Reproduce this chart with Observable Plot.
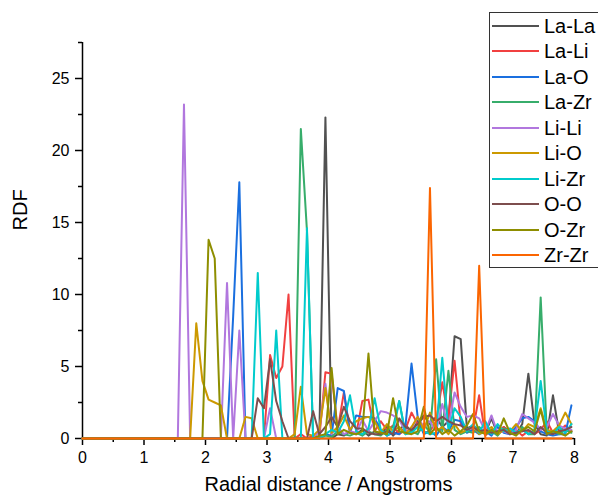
<!DOCTYPE html>
<html>
<head>
<meta charset="utf-8">
<script src="https://cdn.jsdelivr.net/npm/d3@7"></script>
<script src="https://cdn.jsdelivr.net/npm/@observablehq/plot@0.6"></script>
<style>
  html, body { margin: 0; padding: 0; background: white; overflow: hidden; }
  #wrap { position: relative; width: 598px; height: 500px; font-family: "Liberation Sans", Arial, sans-serif; }
  #legend { position: absolute; left: 489px; top: 12px; width: 130px; height: 254px; border: 1px solid #333; background: white; }
  .row { position: absolute; left: 0; height: 26px; width: 130px; }
  .swatch { position: absolute; left: 2px; width: 47px; height: 2px; top: 12px; }
  .lab { position: absolute; left: 54px; top: 0; font-size: 20px; line-height: 26px; color: black; white-space: nowrap; }
</style>
</head>
<body>
<div id="wrap"></div>
<script>
// Radial distance grid (Angstroms)
const xs = [0, 1.45, 1.55, 1.65, 1.75, 1.85, 1.95, 2.05, 2.15, 2.25, 2.35,
  2.45, 2.55, 2.65, 2.75, 2.85, 2.95, 3.05, 3.15, 3.25, 3.35,
  3.45, 3.55, 3.65, 3.75, 3.85, 3.95, 4.05, 4.15, 4.25, 4.35,
  4.45, 4.55, 4.65, 4.75, 4.85, 4.95, 5.05, 5.15, 5.25, 5.35,
  5.45, 5.55, 5.65, 5.75, 5.85, 5.95, 6.05, 6.15, 6.25, 6.35,
  6.45, 6.55, 6.65, 6.75, 6.85, 6.95, 7.05, 7.15, 7.25, 7.35,
  7.45, 7.55, 7.65, 7.75, 7.85, 7.95];

const laLa = [0,
  0, 0, 0, 0, 0, 0, 0, 0, 0, 0,
  0, 0, 0, 0, 0, 0, 0, 0, 0, 0,
  0, 0, 0, 0, 0, 22.3, 0, 0.3, 0.2, 0.5,
  0.3, 0.6, 0.2, 0.5, 0.3, 0.8, 0.2, 0.6, 1.0, 0.4,
  1.2, 1.6, 1.0, 1.5, 0.8, 1.2, 7.1, 6.9, 0.7, 0.9,
  0.6, 0.4, 1.4, 0.3, 0.8, 0.5, 0.3, 1.0, 4.5, 1.0,
  0.3, 0.2, 3.0, 0.4, 0.6, 0.5];
const laLi = [0,
  0, 0, 0, 0, 0, 0, 0, 0, 0, 0,
  0, 0, 0, 0, 0, 0, 5.8, 4.2, 5.0, 10.0,
  0, 0.3, 0, 0.2, 0, 4.6, 4.5, 0.6, 3.2, 0.4,
  0.3, 2.6, 2.7, 0.5, 1.2, 0.6, 0.9, 0.3, 0.6, 1.8,
  1.0, 0.4, 0.5, 1.2, 3.9, 1.4, 5.4, 1.0, 0.5, 0.6,
  3.0, 0.2, 0.6, 0.3, 0.8, 0.4, 0.6, 0.2, 0.5, 0.3,
  0.6, 1.2, 0.4, 0.5, 0.9, 0.5];
const laO = [0,
  0, 0, 0, 0, 0, 0, 0, 0, 0, 0,
  8.5, 17.8, 0, 0, 0, 0, 0, 0, 0, 0,
  0, 0, 0, 0, 0, 0.3, 0.2, 3.5, 3.3, 0.4,
  1.6, 1.5, 1.5, 1.4, 0.6, 0.2, 0.4, 0.3, 0.8, 5.2,
  1.5, 0.3, 0.5, 0.2, 0.8, 0.5, 1.3, 1.2, 0.4, 0.6,
  0.3, 0.5, 0.2, 0.8, 0.4, 0.3, 0.8, 1.4, 1.5, 1.2,
  0.5, 0.3, 0.2, 0.3, 0.3, 2.3];
const laZr = [0,
  0, 0, 0, 0, 0, 0, 0, 0, 0, 0,
  0, 0, 0, 0, 0, 0, 0, 0, 0, 0,
  0, 21.5, 14.4, 0, 0, 0.2, 0.1, 0.5, 0.3, 0.2,
  0.4, 0.2, 0.5, 0.3, 0.2, 0.6, 0.8, 2.6, 0.4, 0.5,
  0.3, 1.0, 0.4, 5.5, 0.5, 4.7, 0.6, 0.3, 0.5, 0.4,
  0.8, 0.3, 0.5, 0.2, 0.7, 0.4, 0.3, 0.8, 0.3, 0.3,
  9.8, 0.4, 0.5, 0.3, 0.6, 0.4];
const liLi = [0,
  0, 0, 23.2, 0, 0, 0, 0, 0, 0, 10.8,
  0, 7.5, 0, 0, 0, 0, 2.1, 0, 0, 0,
  0, 0, 0, 0, 0.5, 3.8, 0.3, 0.8, 0.3, 0.5,
  0.4, 1.3, 0.5, 1.2, 1.9, 1.8, 1.6, 1.3, 0.5, 0.7,
  1.5, 0.8, 1.2, 0.5, 2.4, 0.8, 3.2, 2.2, 1.5, 1.6,
  1.4, 0.5, 1.6, 0.4, 0.5, 0.3, 0.6, 1.7, 1.4, 1.1,
  0.6, 0.8, 1.7, 0.9, 0.7, 0.6];
const liO = [0,
  0, 0, 0, 0, 8.0, 4.0, 2.7, 2.5, 2.3, 0,
  0, 0, 1.5, 1.4, 0, 0, 0, 0, 0, 0,
  0.3, 3.6, 0.3, 0.2, 0.6, 3.5, 0.4, 0.8, 1.6, 0.6,
  1.2, 1.4, 1.5, 1.2, 0.4, 1.0, 0.5, 0.8, 0.3, 0.8,
  1.5, 0.6, 1.8, 0.5, 0.8, 0.3, 1.0, 0.4, 0.6, 0.9,
  0.3, 0.5, 0.8, 0.3, 0.6, 0.5, 1.0, 0.5, 1.0, 0.8,
  2.1, 0.6, 0.5, 0.9, 1.8, 1.0];
const liZr = [0,
  0, 0, 0, 0, 0, 0, 0, 0, 0, 0,
  0, 0, 0, 0, 11.5, 0, 0.3, 7.5, 0, 0,
  0, 0, 14.6, 0, 0, 0.3, 0.6, 0.4, 1.2, 3.0,
  0.5, 0.3, 0.7, 2.8, 0.6, 0.2, 0.5, 2.6, 0.3, 0.4,
  0.8, 0.5, 0.3, 0.4, 5.6, 0.6, 2.1, 1.5, 0.5, 1.0,
  0.4, 1.2, 0.3, 1.0, 0.5, 0.7, 0.4, 0.6, 0.3, 0.6,
  4.0, 0.5, 0.3, 0.8, 0.4, 1.0];
const oO = [0,
  0, 0, 0, 0, 0, 0, 0, 0, 0, 0,
  0, 0, 0, 0, 2.8, 2.1, 5.5, 2.6, 1.2, 0,
  0, 0, 0, 1.9, 0.3, 0.8, 1.5, 0.8, 2.2, 1.2,
  0.7, 0.7, 0.4, 0.3, 0.3, 0.5, 0.3, 1.4, 0.8, 0.6,
  1.0, 1.5, 1.6, 1.2, 1.5, 1.2, 1.0, 0.9, 0.6, 0.8,
  0.5, 0.6, 0.4, 0.5, 0.6, 0.3, 0.4, 0.5, 0.6, 0.3,
  0.8, 0.4, 0.3, 0.5, 0.6, 0.8];
const oZr = [0,
  0, 0, 0, 0, 0, 0, 13.8, 12.5, 0, 0,
  0, 0, 0, 0, 0, 0, 0, 0, 0, 0,
  0, 0, 0, 0, 0.2, 0.3, 4.9, 0.3, 0.6, 0.4,
  0.3, 0.5, 5.9, 0.5, 0.4, 0.3, 2.8, 0.5, 0.4, 0.3,
  0.5, 2.2, 0.3, 0.8, 0.3, 0.6, 0.2, 0.5, 0.9, 1.7,
  0.5, 0.3, 0.6, 0.3, 1.4, 0.4, 0.2, 0.6, 0.8, 0.5,
  2.0, 0.3, 0.5, 0.4, 0.2, 0.5];
const zrZr = [0,
  0, 0, 0, 0, 0, 0, 0, 0, 0, 0,
  0, 0, 0, 0, 0, 0, 0, 0, 0, 0,
  0, 0, 0, 0, 0, 0, 0, 0, 0, 0,
  0, 0, 0, 0, 0, 0, 0, 0, 0, 0,
  0, 0, 17.4, 0, 0, 0, 0, 0, 0, 0,
  12.0, 0, 0, 0, 0, 0, 0, 0, 0, 0,
  0, 0, 0, 0, 0, 0];

const seriesNames = ["La-La", "La-Li", "La-O", "La-Zr", "Li-Li", "Li-O", "Li-Zr", "O-O", "O-Zr", "Zr-Zr"];
const seriesValues = [laLa, laLi, laO, laZr, liLi, liO, liZr, oO, oZr, zrZr];
const seriesColors = ["#515151", "#F14040", "#1A6FDF", "#37AD6B", "#B177DE", "#CC9900", "#00CBCC", "#7D4E4E", "#8E8E00", "#FB6501"];

const xMajor = [0, 1, 2, 3, 4, 5, 6, 7, 8];
const xMinor = [0.5, 1.5, 2.5, 3.5, 4.5, 5.5, 6.5, 7.5];
const yMajor = [0, 5, 10, 15, 20, 25];
const yMinor = [2.5, 7.5, 12.5, 17.5, 22.5, 27.5];

const rows = seriesNames.flatMap((name, i) =>
  seriesValues[i].map((v, j) => ({series: name, x: xs[j], y: v})));

const font = "Liberation Sans, Arial, sans-serif";

const chart = Plot.plot({
  width: 598,
  height: 500,
  marginLeft: 82,
  marginRight: 24,
  marginTop: 42,
  marginBottom: 62,
  style: {fontFamily: font, color: "black", background: "white", overflow: "visible"},
  x: {domain: [0, 8]},
  y: {domain: [0, 27.5]},
  color: {domain: seriesNames, range: seriesColors},
  marks: [
    Plot.ruleX([0], {stroke: "black", strokeWidth: 1.5}),
    Plot.ruleY([0], {stroke: "black", strokeWidth: 1.5}),
    Plot.axisX({ticks: xMajor, tickSize: 7, tickPadding: 6, fontSize: 16, label: null, tickFormat: d => String(d), strokeWidth: 1.5}),
    Plot.axisX({ticks: xMinor, tickSize: 4, text: null, label: null, strokeWidth: 1.5}),
    Plot.axisY({ticks: yMajor, tickSize: 7, tickPadding: 6, fontSize: 16, label: null, tickFormat: d => String(d), strokeWidth: 1.5}),
    Plot.axisY({ticks: yMinor, tickSize: 4, text: null, label: null, strokeWidth: 1.5}),
    Plot.line(rows, {x: "x", y: "y", z: "series", stroke: "series", strokeWidth: 2}),
    Plot.text(["Radial distance / Angstroms"], {text: d => d, frameAnchor: "bottom", dy: 52, fontSize: 20}),
    Plot.text(["RDF"], {text: d => d, frameAnchor: "left", dx: -62, dy: -10, rotate: -90, fontSize: 20})
  ]
});

const wrap = document.getElementById("wrap");
wrap.appendChild(chart);

const legend = document.createElement("div");
legend.id = "legend";
seriesNames.forEach((name, i) => {
  const row = document.createElement("div");
  row.className = "row";
  row.style.top = (13 + i * 25.44 - 13) + "px";
  const sw = document.createElement("div");
  sw.className = "swatch";
  sw.style.background = seriesColors[i];
  const lab = document.createElement("div");
  lab.className = "lab";
  lab.textContent = name;
  row.appendChild(sw);
  row.appendChild(lab);
  legend.appendChild(row);
});
wrap.appendChild(legend);
</script>
</body>
</html>
